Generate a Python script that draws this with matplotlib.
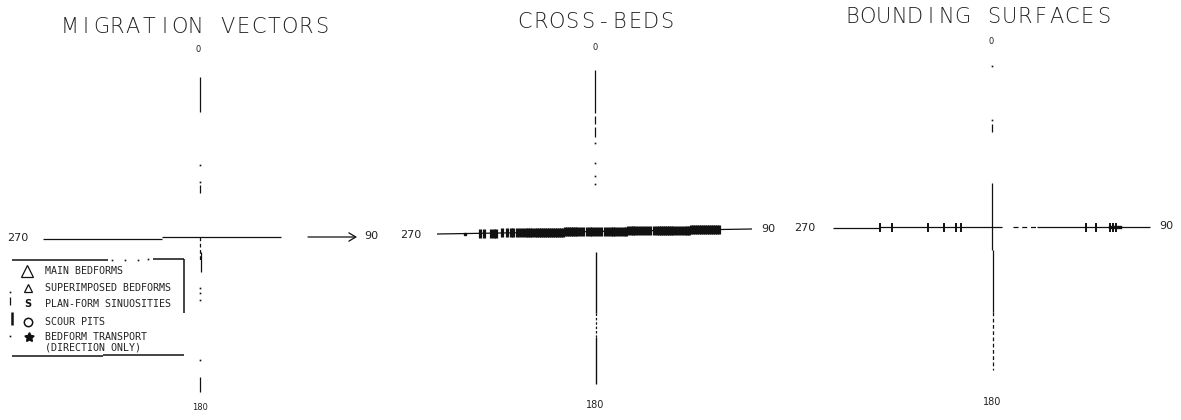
"""
Three compass-cross diagrams (migration vectors, cross-beds, bounding surfaces)
drawn like an old pen-plotter figure.
"""

import matplotlib
matplotlib.use("Agg")
from matplotlib import pyplot as plt
import numpy as np

# ------------------------------------
# Data

titles = ["MIGRATION VECTORS", "CROSS-BEDS", "BOUNDING SURFACES"]
compass = ["0", "90", "180", "270"]

legend_labels = ["MAIN BEDFORMS", "SUPERIMPOSED BEDFORMS", "PLAN-FORM SINUOSITIES",
                 "SCOUR PITS", "BEDFORM TRANSPORT\n(DIRECTION ONLY)"]

# readings along the E-W line, offset from the centre of each cross (px)
crossbed_ticks = [-130, -115, -111, -104, -101, -99, -93, -88, -84, -82, -78, -75,
                  -72, -69, -67, -65, -63, -60, -58, -56, -54, -52, -50, -48, -46,
                  -44, -42, -40, -38, -36, -34, -32, -30, -28, -26, -24, -22, -20,
                  -18, -15, -12, -8, -5, -3, 0, 3, 6, 10, 13, 16, 18, 20, 23, 26, 29,
                  31, 33, 36, 38, 40, 43, 46, 49, 52, 55, 59, 62, 64, 66, 68, 70, 72,
                  74, 76, 78, 81, 84, 87, 90, 92, 94, 96, 98, 100, 102, 104, 106, 108,
                  110, 112, 114, 116, 118, 120, 122, 124]
bounding_ticks = [-112, -100, -64, -48, -36, -31, 94, 104, 118, 121, 124]
migration_arrow = [108, 157]   # single transport vector, start / tip offset


# -------------------------------
# Helpers

W, H = 1181, 420
INK = "#111111"

fig = plt.figure(figsize=(W / 100, H / 100), dpi=100)
ax = fig.add_axes([0, 0, 1, 1])
ax.set_xlim(0, W)
ax.set_ylim(H, 0)
ax.axis("off")


def seg(x0, y0, x1, y1, lw=0.9, ls="-"):
    ax.plot([x0, x1], [y0, y1], color=INK, lw=lw, ls=ls, solid_capstyle="butt")


def dots(pts):
    for x, y in pts:
        ax.plot([x], [y], "s", ms=1.2, color=INK, mec="none")


def spaced(txt, x0, y, pitch, size=15):
    # plotter style title: one glyph per fixed step
    for i, ch in enumerate(txt):
        ax.text(x0 + i * pitch, y, ch, ha="center", va="center", fontsize=size,
                color="#222222", family="DejaVu Sans", fontweight="light")


def lab(txt, x, y, size=8):
    ax.text(x, y, txt, ha="center", va="center", fontsize=size, color="#222222",
            family="DejaVu Sans")


# ------------------
# Panel 1: migration vectors

cx, cy = 200, 237
spaced(titles[0], 70, 27, 15.7)
lab(compass[0], 198, 50, 6)
lab(compass[3], 18, 238)
lab(compass[1], 371, 236)
lab(compass[2], 200, 407, 6)

seg(cx, 77, cx, 112)
dots([(cx, 165), (cx, 182)])
seg(cx, 185, cx, 193)
seg(43, 238.5, 162, 238.5)
seg(162, 236.5, 281, 236.5)
seg(cx, 237, cx, 262, ls=(0, (3, 2)))
seg(cx + 1, 252, cx + 1, 272)
dots([(cx, 288), (cx, 293), (cx, 300), (cx, 360)])
seg(cx, 377, cx, 392)
ax.annotate("", xy=(cx + migration_arrow[1], cy), xytext=(cx + migration_arrow[0], cy),
            arrowprops=dict(arrowstyle="->,head_length=0.5,head_width=0.3",
                            color=INK, lw=0.9, shrinkA=0, shrinkB=0))

# legend box
seg(12, 260, 108, 260, lw=1.1)
dots([(112, 260), (125, 260), (138, 260), (148, 259)])
seg(153, 259, 184, 259, lw=1.1)
seg(184, 259, 184, 313, lw=1.1)
seg(12, 356, 103, 356, lw=1.1)
seg(103, 355, 184, 355, lw=1.1)
seg(10, 297, 10, 305)
seg(12, 312, 12, 325, lw=1.8)
dots([(10, 292), (10, 336)])

rows_y = [271, 288, 304, 322, 342]
ax.plot([27], [rows_y[0]], marker="^", ms=9, mfc="none", mec=INK, mew=0.9)
ax.plot([28], [rows_y[1]], marker="^", ms=5.5, mfc="none", mec=INK, mew=0.9)
ax.text(28, rows_y[2], "S", ha="center", va="center", fontsize=7, color=INK,
        fontweight="bold")
ax.plot([28], [rows_y[3]], marker="o", ms=6, mfc="none", mec=INK, mew=1.1)
ax.plot([29], [rows_y[4] - 5], marker=(5, 1, 0), ms=7, color=INK, ls="none")
for lbl, y in zip(legend_labels, rows_y):
    ax.text(45, y, lbl, ha="left", va="center", fontsize=7.2, color="#222222",
            family="DejaVu Sans Mono", linespacing=1.0)


# ------------------
# Panel 2: cross-beds (line slopes slightly in the scan)

cx, cy = 595, 232
spaced(titles[1], 525, 22, 15.7)
lab(compass[0], 595, 48, 6)
lab(compass[3], 411, 235)
lab(compass[1], 768, 229)
lab(compass[2], 595, 405, 7)

seg(cx, 70, cx, 113)
seg(cx, 116, cx, 124)
seg(cx, 127, cx, 137)
dots([(cx, 143), (cx, 163), (cx, 176), (cx, 184)])
lx, ly = [437, 752], [234, 229]
seg(lx[0], ly[0], lx[1], ly[1])
seg(cx + 1, 252, cx + 1, 313, lw=1.0)
seg(cx + 1, 313, cx + 1, 337, ls=(0, (2, 1.5)))
seg(cx + 1, 337, cx + 1, 384, lw=1.0)

tx = cx + np.array(crossbed_ticks)
ty = np.interp(tx, lx, ly)
ax.vlines(tx[1:], ty[1:] - 4.5, ty[1:] + 4.5, color=INK, lw=2.3)
ax.plot(tx[:1], ty[:1], "s", ms=1.5, color=INK)


# ------------------
# Panel 3: bounding surfaces

cx, cy = 992, 227
spaced(titles[2], 852, 17, 15.7)
lab(compass[0], 991, 42, 6)
lab(compass[3], 805, 228)
lab(compass[1], 1166, 226)
lab(compass[2], 992, 402, 7)

dots([(cx, 66), (cx, 120)])
seg(cx, 124, cx, 132)
seg(cx, 183, cx, 250)
seg(cx + 1, 250, cx + 1, 312)
seg(cx + 1, 312, cx + 1, 370, ls=(0, (3, 2)))
seg(833, 228, 880, 228)
seg(880, 227, 1002, 227)
seg(1013, 227, 1037, 227, ls=(0, (4, 3)))
seg(1037, 227, 1150, 227)

bx = cx + np.array(bounding_ticks)
ax.vlines(bx, cy - 4.5, cy + 4.5, color=INK, lw=1.4)
ax.plot([bx[-1] - 6, bx[-1] + 4], [cy, cy], color=INK, lw=2.4)

fig.savefig("out.png", dpi=100, facecolor="white")
